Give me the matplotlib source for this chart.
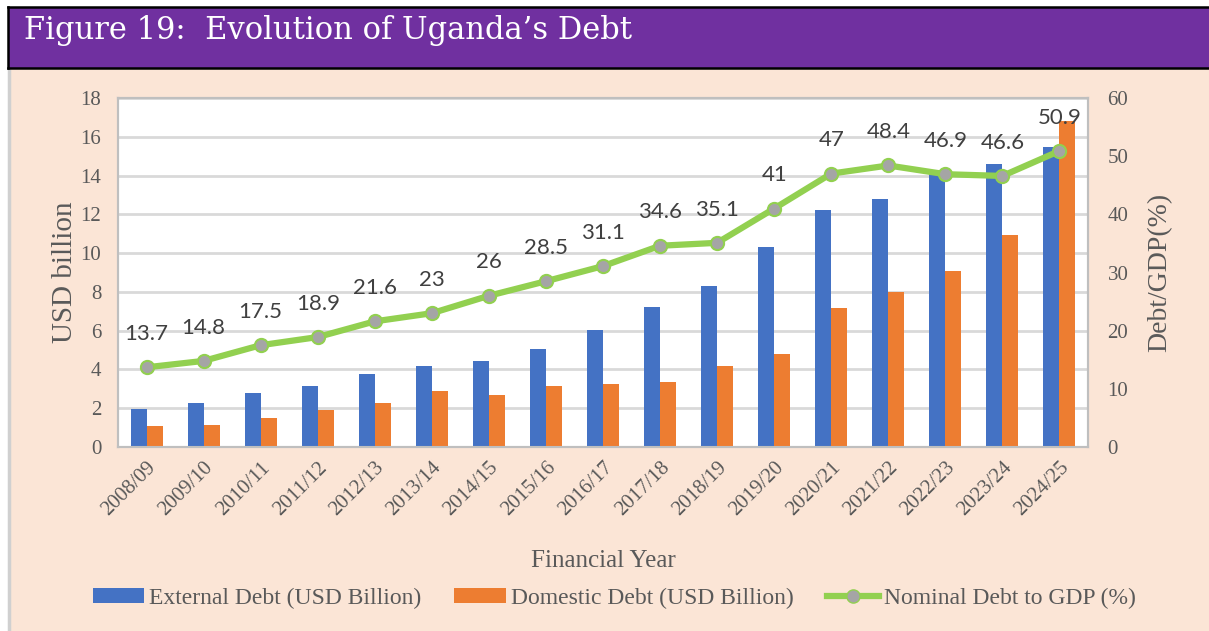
import matplotlib
matplotlib.use("Agg")
import matplotlib.pyplot as plt
import numpy as np
from matplotlib.patches import Rectangle
from matplotlib.lines import Line2D
from matplotlib.patches import Patch

years = ["2008/09", "2009/10", "2010/11", "2011/12", "2012/13", "2013/14",
         "2014/15", "2015/16", "2016/17", "2017/18", "2018/19", "2019/20",
         "2020/21", "2021/22", "2022/23", "2023/24", "2024/25"]
external_debt = [1.95, 2.27, 2.76, 3.15, 3.79, 4.20, 4.46, 5.06, 6.06, 7.23,
                 8.30, 10.30, 12.21, 12.81, 14.10, 14.60, 15.46]
domestic_debt = [1.07, 1.16, 1.48, 1.90, 2.27, 2.88, 2.69, 3.15, 3.27, 3.34,
                 4.20, 4.79, 7.16, 7.99, 9.09, 10.95, 16.79]
debt_to_gdp = [13.7, 14.8, 17.5, 18.9, 21.6, 23, 26, 28.5, 31.1, 34.6, 35.1,
               41, 47, 48.4, 46.9, 46.6, 50.9]
gdp_labels = ["13.7", "14.8", "17.5", "18.9", "21.6", "23", "26", "28.5", "31.1",
              "34.6", "35.1", "41", "47", "48.4", "46.9", "46.6", "50.9"]

W, H = 1209, 631
fig = plt.figure(figsize=(W / 100, H / 100), dpi=100)
fig.patch.set_facecolor("white")

def fx(px):
    return px / W

def fy(py):
    return 1 - py / H

PEACH = "#FBE5D6"
PURPLE = "#7030A0"
GRAY_TXT = "#595959"
SERIF = ["Liberation Serif", "DejaVu Serif"]

# peach panel
fig.patches.append(Rectangle((fx(8), 0), fx(1201), fy(68), transform=fig.transFigure,
                             facecolor=PEACH, edgecolor="none", zorder=-10))
fig.add_artist(Line2D([fx(9), fx(9)], [0, fy(68)], transform=fig.transFigure,
                      color="#D0D0D0", lw=2.5, zorder=-9))
# title bar
fig.patches.append(Rectangle((fx(8), fy(68)), fx(1201), fy(7) - fy(68), transform=fig.transFigure,
                             facecolor=PURPLE, edgecolor="none", zorder=-9))
for (x0, y0, x1, y1) in [(8, 7, 1209, 7), (8, 68, 1209, 68), (8, 7, 8, 68)]:
    fig.add_artist(Line2D([fx(x0), fx(x1)], [fy(y0), fy(y1)], transform=fig.transFigure,
                          color="black", lw=1.8, zorder=-8))
fig.text(fx(24), fy(30), "Figure 19:  Evolution of Uganda\u2019s Debt", color="white",
         fontsize=22, family=["DejaVu Serif"], va="center", ha="left")

ax = fig.add_axes([fx(118), fy(447), fx(1088) - fx(118), fy(98) - fy(447)])
ax.set_facecolor("white")
x = np.arange(len(years))
bw = 0.28
ax.bar(x - bw / 2, external_debt, bw, color="#4472C4", zorder=3, label="External Debt (USD Billion)")
ax.bar(x + bw / 2, domestic_debt, bw, color="#ED7D31", zorder=3, label="Domestic Debt (USD Billion)")
ax.set_ylim(0, 18)
ax.set_yticks(np.arange(0, 19, 2))
ax.set_xlim(-0.5, len(years) - 0.5)
ax.set_xticks(x)
ax.set_xticklabels(years, rotation=45, ha="right", rotation_mode="anchor",
                   fontsize=15, family=SERIF, color=GRAY_TXT)
ax.tick_params(axis="both", length=0)
ax.tick_params(axis="x", pad=8)
ax.tick_params(axis="y", pad=12)
for lab in ax.get_yticklabels():
    lab.set_fontsize(15)
    lab.set_family(SERIF)
    lab.set_color(GRAY_TXT)
ax.grid(axis="y", color="#D9D9D9", lw=2, zorder=0)
ax.set_axisbelow(True)
for s in ax.spines.values():
    s.set_color("#BFBFBF")
    s.set_linewidth(1.5)
ax.set_ylabel("USD billion", fontsize=21, family=SERIF, color=GRAY_TXT, labelpad=2)
ax.set_xlabel("Financial Year", fontsize=18, family=SERIF, color=GRAY_TXT, labelpad=22)

ax2 = ax.twinx()
ax2.set_ylim(0, 60)
ax2.set_yticks(np.arange(0, 61, 10))
ax2.plot(x, debt_to_gdp, color="#92D050", lw=4.5, marker="o", markersize=9.5,
         markerfacecolor="#A5A5A5", markeredgecolor="#92D050", markeredgewidth=1.5,
         zorder=5, label="Nominal Debt to GDP (%)")
for xi, v, t in zip(x, debt_to_gdp, gdp_labels):
    ax2.annotate(t, (xi, v), xytext=(0, 24), textcoords="offset points", ha="center",
                 va="center", fontsize=16, family=["Lato", "DejaVu Sans"], color="#404040",
                 zorder=6)
ax2.tick_params(axis="y", length=0, pad=14)
for lab in ax2.get_yticklabels():
    lab.set_fontsize(15)
    lab.set_family(SERIF)
    lab.set_color(GRAY_TXT)
for s in ax2.spines.values():
    s.set_color("#BFBFBF")
    s.set_linewidth(1.5)
ax2.set_ylabel("Debt/GDP(%)", fontsize=20, family=SERIF, color=GRAY_TXT, labelpad=14)

handles = [Patch(facecolor="#4472C4", label="External Debt (USD Billion)"),
           Patch(facecolor="#ED7D31", label="Domestic Debt (USD Billion)"),
           Line2D([], [], color="#92D050", lw=4.5, marker="o", markersize=9.5,
                  markerfacecolor="#A5A5A5", markeredgecolor="#92D050",
                  label="Nominal Debt to GDP (%)")]
fig.legend(handles=handles, loc="center", bbox_to_anchor=(fx(614), fy(598)), ncol=3,
           frameon=False, prop={"family": SERIF, "size": 17}, labelcolor=GRAY_TXT,
           handlelength=2.2, handleheight=0.6, handletextpad=0.2, columnspacing=1.4)

fig.savefig("out.png", dpi=100, facecolor=fig.get_facecolor())
